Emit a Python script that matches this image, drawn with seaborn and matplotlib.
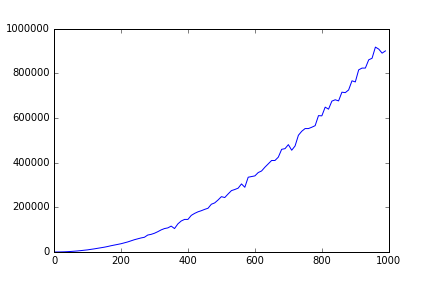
import matplotlib
matplotlib.use("Agg")
import matplotlib.pyplot as plt
import seaborn as sns
import pandas as pd

x_values = list(range(0, 1000, 10))
y_values = [
    0, 100, 400, 800, 1500, 2400, 3500, 4700, 6200, 7900,
    9500, 11800, 14000, 16500, 19000, 21500, 24500, 28000, 31000, 34000,
    37000, 41000, 45000, 50000, 55000, 59000, 63000, 66000, 76000, 79000,
    84000, 91000, 99000, 105000, 108000, 116000, 105000, 126000, 139000, 146000,
    146000, 164000, 173000, 180000, 185000, 191000, 196000, 214000, 220000, 233000,
    248000, 244000, 260000, 275000, 280000, 286000, 305000, 290000, 335000, 338000,
    341000, 356000, 363000, 380000, 395000, 410000, 410000, 425000, 460000, 463000,
    481000, 456000, 475000, 523000, 541000, 553000, 553000, 559000, 566000, 611000,
    610000, 649000, 640000, 676000, 682000, 677000, 716000, 714000, 726000, 767000,
    762000, 816000, 824000, 824000, 861000, 868000, 918000, 909000, 891000, 901000,
]

df = pd.DataFrame({"x": x_values, "y": y_values})

plt.style.use("classic")
fig, ax = plt.subplots(figsize=(6, 4), dpi=72)
fig.patch.set_facecolor("white")
fig.subplots_adjust(left=0.125, right=0.9, top=0.9, bottom=0.125)

sns.lineplot(data=df, x="x", y="y", ax=ax, color="b", linewidth=1)

ax.set_xlim(0, 1000)
ax.set_ylim(0, 1000000)
ax.set_xticks([0, 200, 400, 600, 800, 1000])
ax.set_yticks([0, 200000, 400000, 600000, 800000, 1000000])
ax.ticklabel_format(style="plain", useOffset=False)
ax.set_xlabel("")
ax.set_ylabel("")
ax.tick_params(labelsize=10)

fig.savefig("out.png", dpi=72, facecolor="white")
